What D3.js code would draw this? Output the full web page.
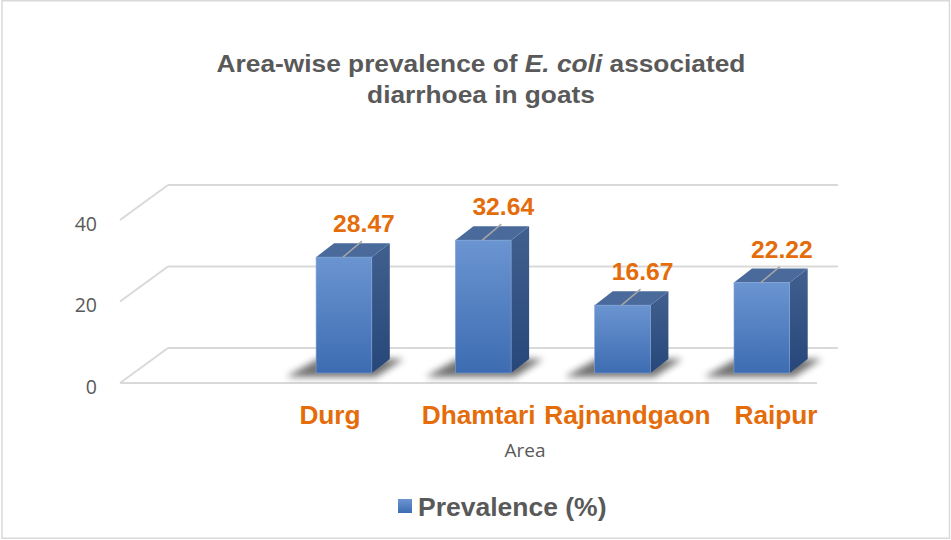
<!DOCTYPE html>
<html>
<head>
<meta charset="utf-8">
<script src="https://cdn.jsdelivr.net/npm/d3@7"></script>
<style>
  html, body { margin: 0; padding: 0; background: #fff; }
  svg { display: block; }
</style>
</head>
<body>
<svg id="chart" width="951" height="540"></svg>
<script>
// ---- data ----
const categories = ["Durg", "Dhamtari", "Rajnandgaon", "Raipur"];
const values = [28.47, 32.64, 16.67, 22.22];
const yTicks = [0, 20, 40];
const titleLine1 = ["Area-wise prevalence of ", "E. coli", " associated"];
const titleLine2 = "diarrhoea in goats";
const xAxisTitle = "Area";
const legendLabel = "Prevalence (%)";

// ---- setup ----
const svg = d3.select("#chart");
const orange = "#E46C0A";
const grey = "#595959";
const SX = 1.06; // horizontal text stretch of the original

svg.append("rect").attr("x", 2).attr("y", 0.75).attr("width", 947.5).attr("height", 537.5)
  .attr("fill", "#fff").attr("stroke", "#d9d9d9").attr("stroke-width", 1.5);

const defs = svg.append("defs");
const gFront = defs.append("linearGradient").attr("id", "gFront").attr("x1", 0).attr("y1", 0).attr("x2", 0).attr("y2", 1);
gFront.append("stop").attr("offset", "0%").attr("stop-color", "#6b95d1");
gFront.append("stop").attr("offset", "100%").attr("stop-color", "#3d6cb2");
const gSide = defs.append("linearGradient").attr("id", "gSide").attr("x1", 0).attr("y1", 0).attr("x2", 0).attr("y2", 1);
gSide.append("stop").attr("offset", "0%").attr("stop-color", "#41608f");
gSide.append("stop").attr("offset", "100%").attr("stop-color", "#27477a");
const blur = defs.append("filter").attr("id", "blur").attr("x", "-50%").attr("y", "-100%").attr("width", "200%").attr("height", "300%");
blur.append("feGaussianBlur").attr("stdDeviation", 3.5);

// scales
const x = d3.scaleBand().domain(categories).range([274.3, 831.5]).paddingInner(0.6).paddingOuter(0.3);
const y = d3.scaleLinear().domain([0, 40]).range([373, 210.2]);        // bar front plane
const yWall = d3.scaleLinear().domain([0, 40]).range([348, 185]);      // back wall
const xLabel = d3.scalePoint().domain(categories).range([330, 776]);
const depthX = 18, depthY = -14;
const wallLeftBack = 168, wallLeftFront = 120, wallRight = 838, floorFrontRight = 817;
const wallDY = 35;

function stretchedText(g, txt, px, py, opts) {
  const t = g.append("text")
    .attr("transform", `translate(${px},${py}) scale(${opts.sx || 1},1)`)
    .attr("text-anchor", opts.anchor || "middle")
    .attr("font-family", opts.family || "'Liberation Sans', Arial, sans-serif")
    .attr("font-size", opts.size)
    .attr("font-weight", opts.weight || "normal")
    .attr("fill", opts.fill)
    .text(txt);
  if (opts.baseline) t.attr("dominant-baseline", opts.baseline);
  return t;
}

// ---- title ----
const tt = svg.append("text")
  .attr("transform", `translate(481,72) scale(${SX},1)`)
  .attr("text-anchor", "middle")
  .attr("font-family", "'Liberation Sans', Arial, sans-serif")
  .attr("font-size", 24.8).attr("font-weight", "bold").attr("fill", grey);
titleLine1.forEach((s, i) => {
  tt.append("tspan").attr("font-style", i === 1 ? "italic" : "normal").text(s);
});
stretchedText(svg, titleLine2, 481, 103, { sx: SX, size: 24.8, weight: "bold", fill: grey });

// ---- grid (3D walls) ----
const grid = svg.append("g").attr("stroke", "#d9d9d9").attr("stroke-width", 2).attr("fill", "none");
yTicks.forEach(v => {
  const yb = yWall(v);
  grid.append("line").attr("x1", wallLeftBack).attr("x2", wallRight).attr("y1", yb).attr("y2", yb);
  grid.append("line").attr("x1", wallLeftBack).attr("y1", yb).attr("x2", wallLeftFront).attr("y2", yb + wallDY);
});
grid.append("line").attr("x1", wallLeftFront).attr("x2", floorFrontRight)
  .attr("y1", yWall(0) + wallDY).attr("y2", yWall(0) + wallDY);

// tick labels
yTicks.forEach(v => {
  stretchedText(svg, String(v), 97, yWall(v) + wallDY + 3, {
    anchor: "end", family: "'Open Sans', 'DejaVu Sans', sans-serif", size: 19.5, fill: grey, baseline: "central"
  });
});

// ---- bars ----
const bars = svg.append("g");
const data = categories.map((c, i) => ({ c, v: values[i] }));

// shadows
bars.selectAll("path.shadow").data(data).enter().append("path")
  .attr("class", "shadow")
  .attr("d", d => {
    const L = x(d.c), R = L + x.bandwidth(), B = y(0);
    return `M${L - 30},${B + 4} L${R + 4},${B + 4} L${R + 32},${B - 14} L${L + 2},${B - 14} Z`;
  })
  .attr("fill", "#000").attr("opacity", 0.55).attr("filter", "url(#blur)");

const bar = bars.selectAll("g.bar").data(data).enter().append("g").attr("class", "bar");
// side face
bar.append("path")
  .attr("d", d => {
    const R = x(d.c) + x.bandwidth(), T = y(d.v), B = y(0);
    return `M${R},${T} L${R + depthX},${T + depthY} L${R + depthX},${B + depthY} L${R},${B} Z`;
  })
  .attr("fill", "url(#gSide)");
// top face
bar.append("path")
  .attr("d", d => {
    const L = x(d.c), R = L + x.bandwidth(), T = y(d.v);
    return `M${L},${T} L${L + depthX},${T + depthY} L${R + depthX},${T + depthY} L${R},${T} Z`;
  })
  .attr("fill", "#4b6a9c");
// front face
bar.append("rect")
  .attr("x", d => x(d.c)).attr("y", d => y(d.v))
  .attr("width", x.bandwidth()).attr("height", d => y(0) - y(d.v))
  .attr("fill", "url(#gFront)").attr("stroke", "#7ea2d8").attr("stroke-width", 0.6);

// leader lines + value labels
const ldx = 19, ldy = -16;
bar.append("line")
  .attr("x1", d => x(d.c) + x.bandwidth() / 2 - 1).attr("y1", d => y(d.v))
  .attr("x2", d => x(d.c) + x.bandwidth() / 2 - 1 + ldx).attr("y2", d => y(d.v) + ldy)
  .attr("stroke", "#a6a6a6").attr("stroke-width", 1.5);
bar.each(function(d) {
  stretchedText(d3.select(this), d.v.toFixed(2), x(d.c) + x.bandwidth() / 2 + ldx + 1, y(d.v) + ldy - 9, {
    sx: 1.05, size: 23.5, weight: "bold", fill: orange
  });
});

// ---- category labels ----
categories.forEach(c => {
  stretchedText(svg, c, xLabel(c), 424, { sx: 1.05, size: 25, weight: "bold", fill: orange });
});

// axis title
stretchedText(svg, xAxisTitle, 525, 457, {
  family: "'Open Sans', 'DejaVu Sans', sans-serif", size: 19, fill: grey
});

// ---- legend ----
svg.append("rect").attr("x", 398).attr("y", 499).attr("width", 14).attr("height", 14)
  .attr("fill", "url(#gFront)");
stretchedText(svg, legendLabel, 418, 516, { anchor: "start", sx: SX, size: 25, weight: "bold", fill: grey });
</script>
</body>
</html>
